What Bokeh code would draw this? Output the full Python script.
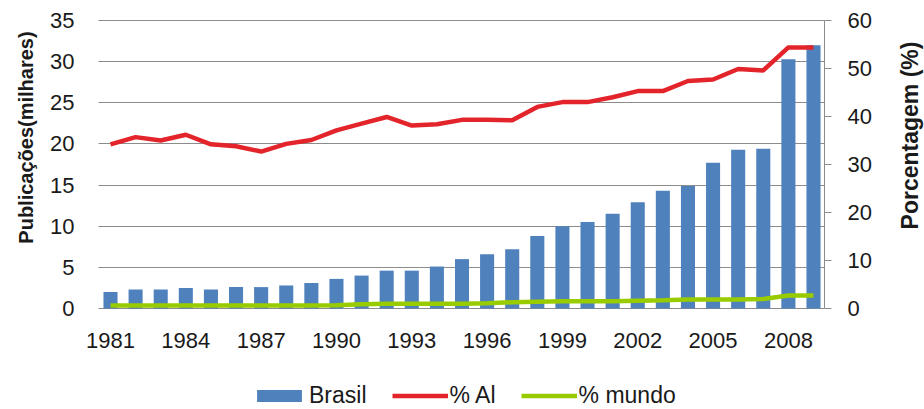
import math
from bokeh.plotting import figure
from bokeh.models import (Range1d, LinearAxis, FixedTicker, Legend, LegendItem,
                          Label, ColumnDataSource)
from bokeh.embed import file_html
from bokeh.resources import INLINE

years = list(range(1981, 2010))
brasil = [2.0, 2.3, 2.3, 2.5, 2.3, 2.6, 2.6, 2.8, 3.1, 3.6, 4.0, 4.6, 4.6, 5.1,
          6.0, 6.6, 7.2, 8.8, 10.0, 10.5, 11.5, 12.9, 14.3, 14.9, 17.7, 19.3,
          19.4, 30.3, 32.0]
pct_al = [34.2, 35.7, 35.0, 36.2, 34.2, 33.8, 32.7, 34.3, 35.1, 37.1, 38.5, 39.9,
          38.1, 38.4, 39.3, 39.3, 39.2, 42.0, 43.0, 43.0, 44.0, 45.3, 45.3, 47.4,
          47.7, 49.9, 49.6, 54.4, 54.4]
pct_mundo = [0.6, 0.6, 0.6, 0.6, 0.6, 0.6, 0.6, 0.6, 0.6, 0.7, 0.9, 1.0, 1.0, 1.0,
             1.0, 1.1, 1.3, 1.4, 1.5, 1.5, 1.5, 1.6, 1.7, 1.9, 1.9, 1.9, 2.0, 2.7, 2.7]
x_ticks = [1981, 1984, 1987, 1990, 1993, 1996, 1999, 2002, 2005, 2008]
left_ticks = [0, 5, 10, 15, 20, 25, 30, 35]
right_ticks = [0, 10, 20, 30, 40, 50, 60]
left_title = "Publicações(milhares)"
right_title = "Porcentagem (%)"

FONT = "Liberation Sans"
GRID = "#8c8c8c"
TXT = "#1a1a1a"

# ---- page geometry (pixels) -------------------------------------------
W, H = 924, 409
PLOT_L, PLOT_R = 98, 824          # gridlines start / right axis line
PLOT_T, PLOT_B = 20, 308          # top gridline / value 0
FIRST_X, LAST_X = 110, 813        # centres of first and last bar

# the frame is the whole canvas; axes are pinned inside it, so the titles
# and the legend (annotations, clipped to the frame) can go anywhere
px_year = (LAST_X - FIRST_X) / (years[-1] - years[0])
x0 = years[0] - FIRST_X / px_year
x1 = years[0] + (W - FIRST_X) / px_year
lmax, rmax = left_ticks[-1], right_ticks[-1]
px_l = (PLOT_B - PLOT_T) / lmax
px_r = (PLOT_B - PLOT_T) / rmax
y0, y1 = -(H - PLOT_B) / px_l, lmax + PLOT_T / px_l
r0, r1 = -(H - PLOT_B) / px_r, rmax + PLOT_T / px_r
left_at = years[0] - (FIRST_X - PLOT_L) / px_year
right_at = years[0] + (PLOT_R - FIRST_X) / px_year

src = ColumnDataSource(dict(year=years, brasil=brasil, al=pct_al, mundo=pct_mundo))

p = figure(width=W, height=H, output_backend="svg", toolbar_location=None,
           x_range=Range1d(x0, x1), y_range=Range1d(y0, y1),
           min_border_left=0, min_border_right=0, min_border_top=0,
           min_border_bottom=0)
p.extra_y_ranges = {"pct": Range1d(r0, r1)}
p.outline_line_color = None
p.background_fill_color = "white"
p.border_fill_color = "white"
p.xgrid.grid_line_color = None
p.ygrid.grid_line_color = None

bars = p.vbar(x="year", top="brasil", width=0.56, source=src,
              fill_color="#4F81BD", line_color=None)
red = p.line(x="year", y="al", source=src, y_range_name="pct",
             line_color="#E3242B", line_width=4.5)
green = p.line(x="year", y="mundo", source=src, y_range_name="pct",
               line_color="#99CC00", line_width=4.5)

# x axis at value 0
xa = p.xaxis[0]
xa.fixed_location = 0
xa.ticker = FixedTicker(ticks=x_ticks)
xa.axis_line_color = None
xa.major_tick_line_color = None
xa.minor_tick_line_color = None
xa.major_label_text_font = FONT
xa.major_label_text_font_size = "22px"
xa.major_label_text_color = TXT
xa.major_label_standoff = 18

# left axis; its long inward ticks are the horizontal gridlines
ya = p.yaxis[0]
ya.fixed_location = left_at
ya.level = "underlay"
ya.ticker = FixedTicker(ticks=left_ticks)
ya.axis_line_color = None
ya.major_tick_line_color = GRID
ya.major_tick_line_width = 1
ya.major_tick_in = PLOT_R - PLOT_L
ya.major_tick_out = 0
ya.minor_tick_line_color = None
ya.major_label_text_font = FONT
ya.major_label_text_font_size = "22px"
ya.major_label_text_color = TXT
ya.major_label_standoff = 24

# right axis
ra = LinearAxis(y_range_name="pct", ticker=FixedTicker(ticks=right_ticks),
                bounds=(0, rmax), fixed_location=right_at)
ra.axis_line_color = GRID
ra.major_tick_line_color = GRID
ra.major_tick_in = 0
ra.major_tick_out = 7
ra.minor_tick_line_color = None
ra.major_label_text_font = FONT
ra.major_label_text_font_size = "22px"
ra.major_label_text_color = TXT
ra.major_label_standoff = 16
p.add_layout(ra, "right")

# axis titles
p.add_layout(Label(x=25, y=H - 137, x_units="screen", y_units="screen",
                   text=left_title, angle=math.pi / 2, text_align="center",
                   text_baseline="middle", text_font=FONT, text_font_style="bold",
                   text_font_size="20px", text_color=TXT))
p.add_layout(Label(x=909, y=H - 135, x_units="screen", y_units="screen",
                   text=right_title, angle=math.pi / 2, text_align="center",
                   text_baseline="middle", text_font=FONT, text_font_style="bold",
                   text_font_size="23px", text_color=TXT))

legend = Legend(items=[LegendItem(label="Brasil", renderers=[bars]),
                       LegendItem(label="% Al", renderers=[red]),
                       LegendItem(label="% mundo", renderers=[green])],
                orientation="horizontal", location=(251, 0),
                glyph_width=56, glyph_height=15, label_standoff=2, spacing=25,
                padding=0, margin=0, border_line_color=None,
                background_fill_alpha=0,
                label_text_font=FONT, label_text_font_size="23px",
                label_text_color=TXT)
p.add_layout(legend, "center")

open("out.html", "w").write(file_html(p, INLINE))
